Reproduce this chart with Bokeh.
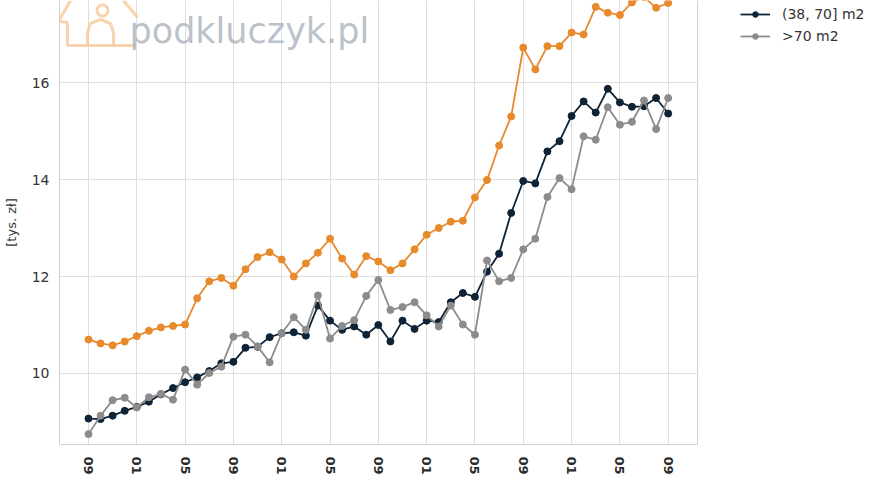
import numpy as np
from bokeh.plotting import figure
from bokeh.models import (FixedTicker, Range1d, Legend, LegendItem, Label,
                          PolyAnnotation, BoxAnnotation, Span)
from bokeh.embed import file_html
from bokeh.resources import INLINE

# price per m2 [thousand PLN], monthly, 09 -> 09 (49 months)
small_flats = [10.70, 10.62, 10.58, 10.66, 10.77, 10.88, 10.95, 10.98, 11.01, 11.55,
               11.90, 11.97, 11.81, 12.15, 12.40, 12.50, 12.35, 12.00, 12.27, 12.49,
               12.78, 12.37, 12.04, 12.42, 12.31, 12.13, 12.27, 12.56, 12.86, 13.00,
               13.13, 13.15, 13.63, 13.99, 14.70, 15.30, 16.72, 16.27, 16.75, 16.75,
               17.03, 16.99, 17.56, 17.44, 17.39, 17.65, 17.76, 17.54, 17.64]
mid_flats = [9.07, 9.06, 9.13, 9.23, 9.31, 9.42, 9.57, 9.70, 9.82, 9.92,
             10.05, 10.21, 10.24, 10.53, 10.55, 10.75, 10.83, 10.85, 10.78, 11.40,
             11.09, 10.90, 10.97, 10.80, 11.00, 10.66, 11.09, 10.92, 11.09, 11.06,
             11.47, 11.66, 11.58, 12.10, 12.47, 13.31, 13.97, 13.92, 14.58, 14.79,
             15.31, 15.61, 15.38, 15.87, 15.59, 15.50, 15.51, 15.68, 15.36]
big_flats = [8.75, 9.13, 9.45, 9.50, 9.30, 9.51, 9.58, 9.46, 10.08, 9.77,
             10.01, 10.14, 10.76, 10.80, 10.56, 10.23, 10.83, 11.16, 10.90, 11.61,
             10.72, 10.98, 11.10, 11.60, 11.93, 11.31, 11.37, 11.47, 11.20, 10.97,
             11.40, 11.01, 10.80, 12.33, 11.90, 11.97, 12.56, 12.78, 13.64, 14.03,
             13.80, 14.89, 14.82, 15.49, 15.13, 15.19, 15.63, 15.04, 15.68]
tick_labels = ["09", "01", "05", "09", "01", "05", "09", "01", "05", "09", "01", "05", "09"]
y_ticks = [10, 12, 14, 16]
label_mid = "(38, 70] m2"
label_big = ">70 m2"

FONT = "DejaVu Sans"
ORANGE = "#e8892c"
NAVY = "#0f2336"
GREY = "#8c8c8c"
EDGE = "#d0d0d0"

months = list(range(len(mid_flats)))
tick_pos = months[::4]

# the frame runs to the right edge so the legend can sit beside the plot;
# everything right of x_end is blanked out
x_start, x_end = -2.4, 50.43
p = figure(frame_width=821, frame_height=444, output_backend="svg", toolbar_location=None,
           x_range=Range1d(x_start, 65.58), y_range=Range1d(8.536, 17.691),
           min_border_left=59, min_border_right=0, min_border_top=0, min_border_bottom=0)
p.outline_line_color = None
p.background_fill_color = "white"

renderers = {}
for name, vals, col in [("small", small_flats, ORANGE), ("mid", mid_flats, NAVY), ("big", big_flats, GREY)]:
    ln = p.line(months, vals, line_color=col, line_width=1.8)
    sc = p.scatter(months, vals, size=7, fill_color=col, line_color=col)
    renderers[name] = [ln, sc]

# axes
p.xaxis.ticker = FixedTicker(ticks=tick_pos)
p.xaxis.bounds = (x_start, x_end)
p.xaxis.major_label_overrides = {t: lab for t, lab in zip(tick_pos, tick_labels)}
p.xaxis.major_label_orientation = "vertical"
p.xaxis.major_label_text_font = FONT
p.xaxis.major_label_text_font_style = "bold"
p.xaxis.major_label_text_font_size = "13px"
p.xaxis.major_label_text_color = "#2b2b2b"
p.xaxis.major_label_standoff = 6

p.yaxis.ticker = FixedTicker(ticks=y_ticks)
p.yaxis.major_label_text_font = FONT
p.yaxis.major_label_text_font_size = "14px"
p.yaxis.major_label_text_color = "#333333"
p.yaxis.major_label_standoff = 4
p.yaxis.axis_label = "[tys. zł]"
p.yaxis.axis_label_text_font = FONT
p.yaxis.axis_label_text_font_style = "normal"
p.yaxis.axis_label_text_font_size = "13px"
p.yaxis.axis_label_text_color = "#333333"
p.yaxis.axis_label_standoff = 10

for ax in p.xaxis + p.yaxis:
    ax.major_tick_line_color = None
    ax.minor_tick_line_color = None
    ax.axis_line_color = EDGE

p.grid.grid_line_color = "#dedede"
p.grid.grid_line_width = 1

p.add_layout(BoxAnnotation(left=x_end, fill_color="white", fill_alpha=1, line_color=None))
p.add_layout(Span(location=x_end, dimension="height", line_color=EDGE, line_width=1))

legend = Legend(items=[LegendItem(label=label_mid, renderers=renderers["mid"]),
                       LegendItem(label=label_big, renderers=renderers["big"])],
                location=(681, 400), label_text_font=FONT, label_text_font_size="14px",
                label_text_color="#333333", glyph_width=30, glyph_height=14, label_height=14,
                label_standoff=12, spacing=6, padding=6, margin=0,
                border_line_color=None, background_fill_alpha=0)
p.add_layout(legend)

# faded watermark
logo = dict(xs_units="canvas", ys_units="canvas", fill_alpha=0,
            line_color="#f6c89a", line_alpha=0.8, line_width=3)
for xs, ys in [([70, 58, 67, 67, 135], [0, 21, 22, 45, 45]),
               ([123, 137], [0, 17]),
               ([87, 87, 90, 100, 110, 113, 113], [45, 32, 23, 19, 23, 32, 45])]:
    p.add_layout(PolyAnnotation(xs=xs + xs[::-1], ys=ys + ys[::-1], **logo))
ang = np.linspace(0, 2 * np.pi, 24)
p.add_layout(PolyAnnotation(xs=list(102 + 5.5 * np.cos(ang)), ys=list(10 + 5.5 * np.sin(ang)), **logo))
p.add_layout(Label(x=129, y=30, x_units="canvas", y_units="canvas", text="podkluczyk.pl",
                   text_font=FONT, text_font_size="35px", text_color="#a9b1ba", text_alpha=0.8,
                   text_baseline="alphabetic"))

open("out.html", "w").write(file_html(p, INLINE))
